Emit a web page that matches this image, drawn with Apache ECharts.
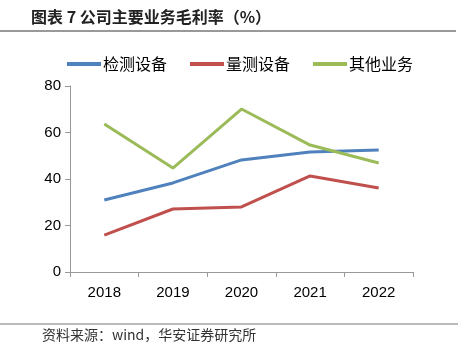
<!DOCTYPE html>
<html><head><meta charset="utf-8">
<script src="https://cdn.jsdelivr.net/npm/echarts@6/dist/echarts.min.js"></script>
<style>html,body{margin:0;padding:0;background:#fff;}#c{width:468px;height:355px;}</style>
</head><body><div id="c"></div>
<script>
const categories = ['2018','2019','2020','2021','2022'];
const seriesNames = ['检测设备','量测设备','其他业务'];
const inspection = [31, 38.3, 48.2, 51.6, 52.5];
const metrology = [15.9, 27.1, 28, 41.3, 36.1];
const other = [63.7, 44.7, 70.1, 54.6, 46.9];
const yTicks = [0, 20, 40, 60, 80];
const colors = ['#4F81BD','#C0504D','#9BBB59'];

const chart = echarts.init(document.getElementById('c'), null, {renderer:'canvas'});
const cjk = '"Noto Sans CJK SC", sans-serif';
chart.setOption({
  animation:false,
  backgroundColor:'#fff',
  graphic:[
    {type:'text', left:31, top:9, style:{text:'图表 7 公司主要业务毛利率（%）', font:'bold 16px "Noto Sans CJK SC"', fill:'#222'}},
    {type:'line', shape:{x1:0,y1:31,x2:456,y2:31}, style:{stroke:'#777', lineWidth:1.5}},
    {type:'line', shape:{x1:0,y1:324,x2:458,y2:324}, style:{stroke:'#777', lineWidth:1}},
    {type:'text', left:42, top:328, style:{text:'资料来源：wind，华安证券研究所', font:'14px "Noto Sans CJK SC"', fill:'#333'}}
  ],
  legend:{
    data:seriesNames, top:51, left:62, itemWidth:34, itemHeight:4, itemGap:23,
    icon:'rect',
    textStyle:{fontFamily:cjk, fontSize:16, color:'#000', padding:[0,0,0,-3]}
  },
  grid:{left:70, right:55, top:86, bottom:83},
  xAxis:{
    type:'category', data:categories, boundaryGap:true,
    axisLine:{lineStyle:{color:'#999'}},
    axisTick:{show:true, lineStyle:{color:'#999'}, length:5},
    axisLabel:{color:'#000', fontSize:15, fontFamily:'Liberation Sans, Arial', margin:13}
  },
  yAxis:{
    type:'value', min:yTicks[0], max:yTicks[yTicks.length-1], interval:20,
    axisLine:{show:true, lineStyle:{color:'#999'}},
    axisTick:{show:true, inside:false, length:5, lineStyle:{color:'#999'}},
    splitLine:{show:false},
    axisLabel:{color:'#000', fontSize:15, fontFamily:'Liberation Sans, Arial', margin:9}
  },
  series:[
    {name:seriesNames[0], type:'line', data:inspection, color:colors[0], symbol:'none', lineStyle:{width:3}},
    {name:seriesNames[1], type:'line', data:metrology, color:colors[1], symbol:'none', lineStyle:{width:3}},
    {name:seriesNames[2], type:'line', data:other, color:colors[2], symbol:'none', lineStyle:{width:3}}
  ]
});
</script></body></html>
